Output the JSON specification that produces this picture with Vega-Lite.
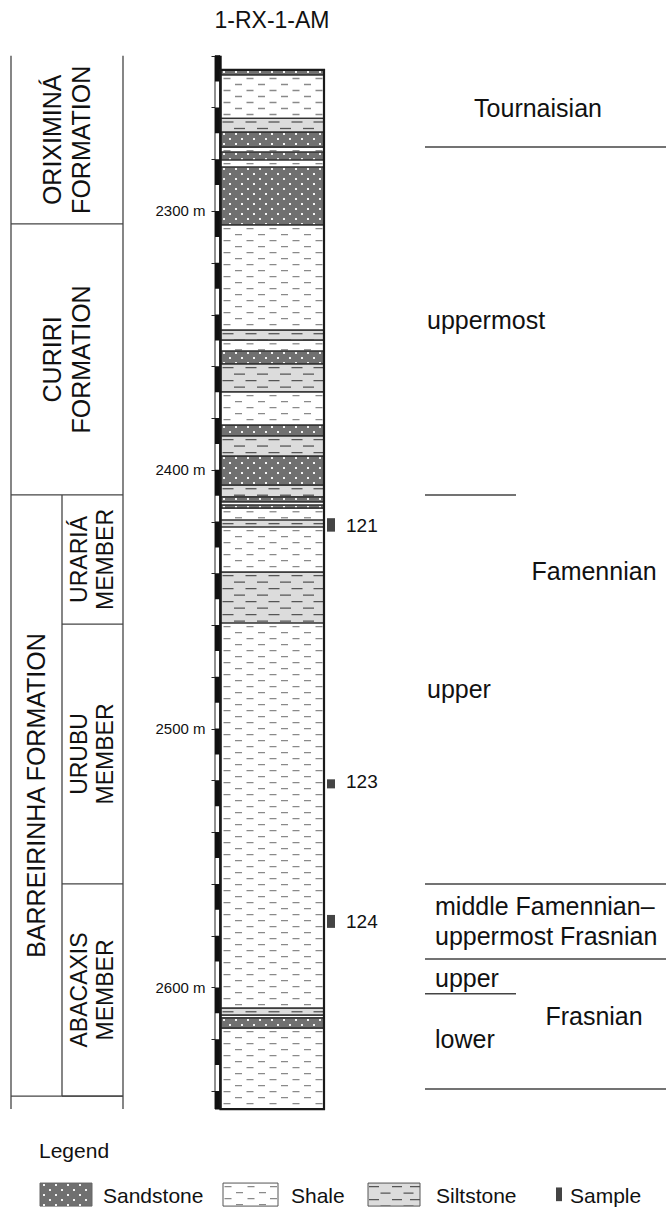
{
"$schema": "https://vega.github.io/schema/vega-lite/v6.json",
"width": 666, "height": 1208, "autosize": "none", "padding": 0, "background": "#ffffff",
"config": {"view": {"stroke": null}, "axisX": {"disable": true}, "text": {"font": "Liberation Sans", "color": "#111111"}},
"datasets": {
"well": [{"well": "1-RX-1-AM", "logTop": 2240, "logBase": 2647}],
"litho": [
{"rock": "Sandstone", "top": 2245.5, "base": 2247.4},
{"rock": "Shale", "top": 2247.4, "base": 2264.2},
{"rock": "Siltstone", "top": 2264.2, "base": 2269.5},
{"rock": "Sandstone", "top": 2269.5, "base": 2275.3},
{"rock": "Shale", "top": 2275.3, "base": 2277.2},
{"rock": "Sandstone", "top": 2277.2, "base": 2280.3},
{"rock": "Shale", "top": 2280.3, "base": 2283.0},
{"rock": "Sandstone", "top": 2283.0, "base": 2305.4},
{"rock": "Shale", "top": 2305.4, "base": 2346.0},
{"rock": "Siltstone", "top": 2346.0, "base": 2349.9},
{"rock": "Shale", "top": 2349.9, "base": 2354.1},
{"rock": "Sandstone", "top": 2354.1, "base": 2359.1},
{"rock": "Siltstone", "top": 2359.1, "base": 2369.9},
{"rock": "Shale", "top": 2369.9, "base": 2382.7},
{"rock": "Sandstone", "top": 2382.7, "base": 2386.9},
{"rock": "Siltstone", "top": 2386.9, "base": 2394.7},
{"rock": "Sandstone", "top": 2394.7, "base": 2405.9},
{"rock": "Siltstone", "top": 2405.9, "base": 2410.5},
{"rock": "Sandstone", "top": 2410.5, "base": 2412.4},
{"rock": "Shale", "top": 2412.4, "base": 2413.6},
{"rock": "Sandstone", "top": 2413.6, "base": 2414.8},
{"rock": "Shale", "top": 2414.8, "base": 2419.4},
{"rock": "Siltstone", "top": 2419.4, "base": 2422.1},
{"rock": "Shale", "top": 2422.1, "base": 2439.5},
{"rock": "Siltstone", "top": 2439.5, "base": 2459.2},
{"rock": "Shale", "top": 2459.2, "base": 2608.0},
{"rock": "Siltstone", "top": 2608.0, "base": 2610.7},
{"rock": "Shale", "top": 2610.7, "base": 2611.8},
{"rock": "Sandstone", "top": 2611.8, "base": 2615.7},
{"rock": "Shale", "top": 2615.7, "base": 2647.0}
],
"units": [
{"unit": "ORIXIMINÁ\nFORMATION", "rank": "Formation", "top": 2240.0, "base": 2305.0},
{"unit": "CURIRI\nFORMATION", "rank": "Formation", "top": 2305.0, "base": 2409.7},
{"unit": "BARREIRINHA FORMATION", "rank": "Formation", "top": 2409.7, "base": 2642.0},
{"unit": "URARIÁ\nMEMBER", "rank": "Member", "top": 2409.7, "base": 2459.6},
{"unit": "URUBU\nMEMBER", "rank": "Member", "top": 2459.6, "base": 2560.0},
{"unit": "ABACAXIS\nMEMBER", "rank": "Member", "top": 2560.0, "base": 2642.0}
],
"stageLines": [
{"depth": 2275.3, "rank": "stage"},
{"depth": 2409.7, "rank": "substage"},
{"depth": 2560.0, "rank": "stage"},
{"depth": 2589.0, "rank": "stage"},
{"depth": 2602.5, "rank": "substage"},
{"depth": 2639.3, "rank": "stage"}
],
"stageLabels": [
{"label": "Tournaisian", "depth": 2263.7, "rank": "stage", "stage": "Tournaisian"},
{"label": "Famennian", "depth": 2442.6, "rank": "stage", "stage": "Famennian"},
{"label": "Frasnian", "depth": 2614.5, "rank": "stage", "stage": "Frasnian"},
{"label": "uppermost", "depth": 2345.6, "rank": "substage", "stage": "Famennian"},
{"label": "upper", "depth": 2488.2, "rank": "substage", "stage": "Famennian"},
{"label": "middle Famennian–\nuppermost Frasnian", "depth": 2572.0, "rank": "interval", "stage": "Famennian–Frasnian"},
{"label": "upper", "depth": 2599.9, "rank": "substage", "stage": "Frasnian"},
{"label": "lower", "depth": 2623.4, "rank": "substage", "stage": "Frasnian"}
],
"samples": [
{"sample": "121", "top": 2418.7, "base": 2423.9},
{"sample": "123", "top": 2519.6, "base": 2523.1},
{"sample": "124", "top": 2572.0, "base": 2577.0}
],
"legend": [{"item": "Sandstone"}, {"item": "Shale"}, {"item": "Siltstone"}, {"item": "Sample"}]
},
"layer": [
{"data": {"name": "well"},
 "mark": {"type": "rect", "fill": "#ffffff", "stroke": "#222222", "strokeWidth": 1},
 "encoding": {
  "x": {"datum": 215, "type": "quantitative", "scale": {"domain": [0, 666], "nice": false, "zero": false}},
  "x2": {"datum": 220},
  "y": {"field": "logTop", "type": "quantitative", "scale": {"domain": [2218.47, 2685.24], "reverse": true, "nice": false, "zero": false},
   "axis": {"orient": "left", "offset": -215, "values": [2240,2250,2260,2270,2280,2290,2300,2310,2320,2330,2340,2350,2360,2370,2380,2390,2400,2410,2420,2430,2440,2450,2460,2470,2480,2490,2500,2510,2520,2530,2540,2550,2560,2570,2580,2590,2600,2610,2620,2630,2640],
    "tickSize": 4, "tickColor": "#222222", "tickWidth": 1, "domain": false, "grid": false, "title": null,
    "labelExpr": "datum.value % 100 === 0 ? datum.value + ' m' : ''", "labelFont": "Liberation Sans", "labelFontSize": 15, "labelColor": "#111111", "labelPadding": 6, "labelOverlap": false, "labelBound": false, "labelFlush": false}},
  "y2": {"field": "logBase"}}},
{"data": {"name": "well"},
 "mark": {"type": "rule", "color": "#111111", "strokeWidth": 5, "strokeDash": [25.88, 25.88]},
 "encoding": {"x": {"datum": 217.5}, "y": {"field": "logTop", "type": "quantitative"}, "y2": {"field": "logBase"}}},
{"data": {"name": "well"},
 "mark": {"type": "rule", "color": "#111111", "strokeWidth": 2.4},
 "encoding": {"x": {"datum": 220.5}, "y": {"field": "logTop", "type": "quantitative"}, "y2": {"field": "logBase"}}},
{"data": {"name": "litho"},
 "mark": {"type": "rect", "strokeWidth": 0},
 "encoding": {"x": {"datum": 221}, "x2": {"datum": 324}, "y": {"field": "top", "type": "quantitative"}, "y2": {"field": "base"},
  "fill": {"field": "rock", "type": "nominal", "scale": {"domain": ["Sandstone", "Shale", "Siltstone"], "range": ["#707070", "#ffffff", "#dcdcdc"]}, "legend": null}}},
{"data": {"name": "litho"}, "transform": [{"filter": "datum.rock === 'Sandstone'"}],
 "encoding": {"y": {"field": "top", "type": "quantitative"}, "y2": {"field": "base"}},
 "layer": [
  {"mark": {"type": "rule", "color": "#f4f4f4", "strokeWidth": 2, "strokeDash": [2, 8], "strokeDashOffset": -1}, "encoding": {"x": {"datum": 224}}},
  {"mark": {"type": "rule", "color": "#f4f4f4", "strokeWidth": 2, "strokeDash": [2, 8], "strokeDashOffset": -6}, "encoding": {"x": {"datum": 230}}},
  {"mark": {"type": "rule", "color": "#f4f4f4", "strokeWidth": 2, "strokeDash": [2, 8], "strokeDashOffset": -1}, "encoding": {"x": {"datum": 236}}},
  {"mark": {"type": "rule", "color": "#f4f4f4", "strokeWidth": 2, "strokeDash": [2, 8], "strokeDashOffset": -6}, "encoding": {"x": {"datum": 242}}},
  {"mark": {"type": "rule", "color": "#f4f4f4", "strokeWidth": 2, "strokeDash": [2, 8], "strokeDashOffset": -1}, "encoding": {"x": {"datum": 248}}},
  {"mark": {"type": "rule", "color": "#f4f4f4", "strokeWidth": 2, "strokeDash": [2, 8], "strokeDashOffset": -6}, "encoding": {"x": {"datum": 254}}},
  {"mark": {"type": "rule", "color": "#f4f4f4", "strokeWidth": 2, "strokeDash": [2, 8], "strokeDashOffset": -1}, "encoding": {"x": {"datum": 260}}},
  {"mark": {"type": "rule", "color": "#f4f4f4", "strokeWidth": 2, "strokeDash": [2, 8], "strokeDashOffset": -6}, "encoding": {"x": {"datum": 266}}},
  {"mark": {"type": "rule", "color": "#f4f4f4", "strokeWidth": 2, "strokeDash": [2, 8], "strokeDashOffset": -1}, "encoding": {"x": {"datum": 272}}},
  {"mark": {"type": "rule", "color": "#f4f4f4", "strokeWidth": 2, "strokeDash": [2, 8], "strokeDashOffset": -6}, "encoding": {"x": {"datum": 278}}},
  {"mark": {"type": "rule", "color": "#f4f4f4", "strokeWidth": 2, "strokeDash": [2, 8], "strokeDashOffset": -1}, "encoding": {"x": {"datum": 284}}},
  {"mark": {"type": "rule", "color": "#f4f4f4", "strokeWidth": 2, "strokeDash": [2, 8], "strokeDashOffset": -6}, "encoding": {"x": {"datum": 290}}},
  {"mark": {"type": "rule", "color": "#f4f4f4", "strokeWidth": 2, "strokeDash": [2, 8], "strokeDashOffset": -1}, "encoding": {"x": {"datum": 296}}},
  {"mark": {"type": "rule", "color": "#f4f4f4", "strokeWidth": 2, "strokeDash": [2, 8], "strokeDashOffset": -6}, "encoding": {"x": {"datum": 302}}},
  {"mark": {"type": "rule", "color": "#f4f4f4", "strokeWidth": 2, "strokeDash": [2, 8], "strokeDashOffset": -1}, "encoding": {"x": {"datum": 308}}},
  {"mark": {"type": "rule", "color": "#f4f4f4", "strokeWidth": 2, "strokeDash": [2, 8], "strokeDashOffset": -6}, "encoding": {"x": {"datum": 314}}},
  {"mark": {"type": "rule", "color": "#f4f4f4", "strokeWidth": 2, "strokeDash": [2, 8], "strokeDashOffset": -1}, "encoding": {"x": {"datum": 320}}}
 ]},
{"data": {"name": "litho"}, "transform": [{"filter": "datum.rock === 'Shale'"}],
 "encoding": {"y": {"field": "top", "type": "quantitative"}, "y2": {"field": "base"}},
 "layer": [
  {"mark": {"type": "rule", "color": "#8a8a8a", "strokeWidth": 7, "strokeDash": [1.3, 10.7], "strokeDashOffset": -3}, "encoding": {"x": {"datum": 227}}},
  {"mark": {"type": "rule", "color": "#8a8a8a", "strokeWidth": 7, "strokeDash": [1.3, 10.7], "strokeDashOffset": -9}, "encoding": {"x": {"datum": 238.5}}},
  {"mark": {"type": "rule", "color": "#8a8a8a", "strokeWidth": 7, "strokeDash": [1.3, 10.7], "strokeDashOffset": -3}, "encoding": {"x": {"datum": 250}}},
  {"mark": {"type": "rule", "color": "#8a8a8a", "strokeWidth": 7, "strokeDash": [1.3, 10.7], "strokeDashOffset": -9}, "encoding": {"x": {"datum": 261.5}}},
  {"mark": {"type": "rule", "color": "#8a8a8a", "strokeWidth": 7, "strokeDash": [1.3, 10.7], "strokeDashOffset": -3}, "encoding": {"x": {"datum": 273}}},
  {"mark": {"type": "rule", "color": "#8a8a8a", "strokeWidth": 7, "strokeDash": [1.3, 10.7], "strokeDashOffset": -9}, "encoding": {"x": {"datum": 284.5}}},
  {"mark": {"type": "rule", "color": "#8a8a8a", "strokeWidth": 7, "strokeDash": [1.3, 10.7], "strokeDashOffset": -3}, "encoding": {"x": {"datum": 296}}},
  {"mark": {"type": "rule", "color": "#8a8a8a", "strokeWidth": 7, "strokeDash": [1.3, 10.7], "strokeDashOffset": -9}, "encoding": {"x": {"datum": 307.5}}},
  {"mark": {"type": "rule", "color": "#8a8a8a", "strokeWidth": 7, "strokeDash": [1.3, 10.7], "strokeDashOffset": -3}, "encoding": {"x": {"datum": 319}}}
 ]},
{"data": {"name": "litho"}, "transform": [{"filter": "datum.rock === 'Siltstone'"}],
 "encoding": {"y": {"field": "top", "type": "quantitative"}, "y2": {"field": "base"}},
 "layer": [
  {"mark": {"type": "rule", "color": "#555555", "strokeWidth": 11, "strokeDash": [1.3, 11.7], "strokeDashOffset": -3}, "encoding": {"x": {"datum": 228}}},
  {"mark": {"type": "rule", "color": "#555555", "strokeWidth": 11, "strokeDash": [1.3, 11.7], "strokeDashOffset": -9.5}, "encoding": {"x": {"datum": 239.5}}},
  {"mark": {"type": "rule", "color": "#555555", "strokeWidth": 11, "strokeDash": [1.3, 11.7], "strokeDashOffset": -3}, "encoding": {"x": {"datum": 251}}},
  {"mark": {"type": "rule", "color": "#555555", "strokeWidth": 11, "strokeDash": [1.3, 11.7], "strokeDashOffset": -9.5}, "encoding": {"x": {"datum": 262.5}}},
  {"mark": {"type": "rule", "color": "#555555", "strokeWidth": 11, "strokeDash": [1.3, 11.7], "strokeDashOffset": -3}, "encoding": {"x": {"datum": 274}}},
  {"mark": {"type": "rule", "color": "#555555", "strokeWidth": 11, "strokeDash": [1.3, 11.7], "strokeDashOffset": -9.5}, "encoding": {"x": {"datum": 285.5}}},
  {"mark": {"type": "rule", "color": "#555555", "strokeWidth": 11, "strokeDash": [1.3, 11.7], "strokeDashOffset": -3}, "encoding": {"x": {"datum": 297}}},
  {"mark": {"type": "rule", "color": "#555555", "strokeWidth": 11, "strokeDash": [1.3, 11.7], "strokeDashOffset": -9.5}, "encoding": {"x": {"datum": 308.5}}},
  {"mark": {"type": "rule", "color": "#555555", "strokeWidth": 11, "strokeDash": [1.3, 11.7], "strokeDashOffset": -3}, "encoding": {"x": {"datum": 319}}}
 ]},
{"data": {"name": "litho"},
 "mark": {"type": "rect", "filled": false, "stroke": "#333333", "strokeWidth": 1.2},
 "encoding": {"x": {"datum": 221}, "x2": {"datum": 324}, "y": {"field": "top", "type": "quantitative"}, "y2": {"field": "base"}}},
{"data": {"name": "litho"},
 "mark": {"type": "rect", "filled": false, "stroke": "#1a1a1a", "strokeWidth": 2.2},
 "encoding": {"x": {"datum": 220.5}, "x2": {"datum": 324}, "y": {"aggregate": "min", "field": "top", "type": "quantitative"}, "y2": {"aggregate": "max", "field": "base"}}},
{"data": {"name": "well"},
 "mark": {"type": "rule", "color": "#444444", "strokeWidth": 1.3},
 "encoding": {"x": {"datum": 11}, "y": {"field": "logTop", "type": "quantitative"}, "y2": {"field": "logBase"}}},
{"data": {"name": "well"},
 "mark": {"type": "rule", "color": "#444444", "strokeWidth": 1.3},
 "encoding": {"x": {"datum": 123}, "y": {"field": "logTop", "type": "quantitative"}, "y2": {"field": "logBase"}}},
{"data": {"name": "units"}, "transform": [{"filter": "datum.rank === 'Formation'"}],
 "mark": {"type": "rule", "color": "#444444", "strokeWidth": 1.3},
 "encoding": {"x": {"datum": 11}, "x2": {"datum": 123}, "y": {"field": "base", "type": "quantitative"}}},
{"data": {"name": "units"}, "transform": [{"filter": "datum.rank === 'Member'"}],
 "mark": {"type": "rule", "color": "#444444", "strokeWidth": 1.3},
 "encoding": {"x": {"datum": 62}, "x2": {"datum": 123}, "y": {"field": "base", "type": "quantitative"}}},
{"data": {"name": "units"}, "transform": [{"filter": "datum.rank === 'Member'"}],
 "mark": {"type": "rule", "color": "#444444", "strokeWidth": 1.3},
 "encoding": {"x": {"datum": 62}, "y": {"field": "top", "type": "quantitative"}, "y2": {"field": "base"}}},
{"data": {"name": "units"}, "transform": [{"filter": "datum.rank === 'Formation' && datum.unit !== 'BARREIRINHA FORMATION'"}, {"fold": ["top", "base"], "as": ["edge", "depth"]}],
 "mark": {"type": "text", "angle": 270, "align": "center", "baseline": "middle", "fontSize": 25, "lineBreak": "\n", "lineHeight": 29},
 "encoding": {"x": {"datum": 52.5}, "y": {"aggregate": "mean", "field": "depth", "type": "quantitative"}, "text": {"field": "unit", "type": "nominal"}}},
{"data": {"name": "units"}, "transform": [{"filter": "datum.unit === 'BARREIRINHA FORMATION'"}, {"fold": ["top", "base"], "as": ["edge", "depth"]}],
 "mark": {"type": "text", "angle": 270, "align": "center", "baseline": "middle", "fontSize": 25},
 "encoding": {"x": {"datum": 36.5}, "y": {"aggregate": "mean", "field": "depth", "type": "quantitative"}, "text": {"field": "unit", "type": "nominal"}}},
{"data": {"name": "units"}, "transform": [{"filter": "datum.rank === 'Member'"}, {"fold": ["top", "base"], "as": ["edge", "depth"]}],
 "mark": {"type": "text", "angle": 270, "align": "center", "baseline": "middle", "fontSize": 23, "lineBreak": "\n", "lineHeight": 26},
 "encoding": {"x": {"datum": 80}, "y": {"aggregate": "mean", "field": "depth", "type": "quantitative"}, "text": {"field": "unit", "type": "nominal"}}},
{"data": {"name": "stageLines"}, "transform": [{"filter": "datum.rank === 'stage'"}],
 "mark": {"type": "rule", "color": "#444444", "strokeWidth": 1.5},
 "encoding": {"x": {"datum": 425}, "x2": {"datum": 666}, "y": {"field": "depth", "type": "quantitative"}}},
{"data": {"name": "stageLines"}, "transform": [{"filter": "datum.rank === 'substage'"}],
 "mark": {"type": "rule", "color": "#444444", "strokeWidth": 1.5},
 "encoding": {"x": {"datum": 425}, "x2": {"datum": 516}, "y": {"field": "depth", "type": "quantitative"}}},
{"data": {"name": "stageLabels"}, "transform": [{"filter": "datum.stage === 'Tournaisian'"}],
 "mark": {"type": "text", "align": "center", "baseline": "alphabetic", "fontSize": 25},
 "encoding": {"x": {"datum": 538}, "y": {"field": "depth", "type": "quantitative"}, "text": {"field": "label", "type": "nominal"}}},
{"data": {"name": "stageLabels"}, "transform": [{"filter": "datum.rank === 'stage' && datum.stage !== 'Tournaisian'"}],
 "mark": {"type": "text", "align": "center", "baseline": "alphabetic", "fontSize": 25},
 "encoding": {"x": {"datum": 594}, "y": {"field": "depth", "type": "quantitative"}, "text": {"field": "label", "type": "nominal"}}},
{"data": {"name": "stageLabels"}, "transform": [{"filter": "datum.rank === 'substage' && datum.stage === 'Famennian'"}],
 "mark": {"type": "text", "align": "left", "baseline": "alphabetic", "fontSize": 25},
 "encoding": {"x": {"datum": 427}, "y": {"field": "depth", "type": "quantitative"}, "text": {"field": "label", "type": "nominal"}}},
{"data": {"name": "stageLabels"}, "transform": [{"filter": "datum.rank !== 'stage' && datum.stage !== 'Famennian'"}],
 "mark": {"type": "text", "align": "left", "baseline": "alphabetic", "fontSize": 25, "lineBreak": "\n", "lineHeight": 30},
 "encoding": {"x": {"datum": 435}, "y": {"field": "depth", "type": "quantitative"}, "text": {"field": "label", "type": "nominal"}}},
{"data": {"name": "samples"},
 "mark": {"type": "rect", "fill": "#444444"},
 "encoding": {"x": {"datum": 327}, "x2": {"datum": 335}, "y": {"field": "top", "type": "quantitative"}, "y2": {"field": "base"}}},
{"data": {"name": "samples"},
 "mark": {"type": "text", "align": "left", "baseline": "alphabetic", "fontSize": 19},
 "encoding": {"x": {"datum": 346}, "y": {"field": "base", "type": "quantitative"}, "text": {"field": "sample", "type": "nominal"}}},
{"data": {"name": "well"},
 "mark": {"type": "text", "align": "center", "baseline": "alphabetic", "fontSize": 23},
 "encoding": {"x": {"datum": 272}, "y": {"datum": 2229.3}, "text": {"field": "well", "type": "nominal"}}},
{"data": {"name": "well"},
 "mark": {"type": "text", "align": "left", "baseline": "alphabetic", "fontSize": 21},
 "encoding": {"x": {"datum": 39}, "y": {"datum": 2666.0}, "text": {"value": "Legend"}}},
{"data": {"name": "legend"}, "transform": [{"filter": "datum.item === 'Sandstone'"}],
 "encoding": {"y": {"datum": 2675.6}, "y2": {"datum": 2684.5}},
 "layer": [
  {"mark": {"type": "rect", "fill": "#707070", "stroke": "#666666", "strokeWidth": 1}, "encoding": {"x": {"datum": 40}, "x2": {"datum": 92}}},
  {"mark": {"type": "rule", "color": "#f4f4f4", "strokeWidth": 2, "strokeDash": [2, 8], "strokeDashOffset": -1}, "encoding": {"x": {"datum": 44}}},
  {"mark": {"type": "rule", "color": "#f4f4f4", "strokeWidth": 2, "strokeDash": [2, 8], "strokeDashOffset": -6}, "encoding": {"x": {"datum": 50}}},
  {"mark": {"type": "rule", "color": "#f4f4f4", "strokeWidth": 2, "strokeDash": [2, 8], "strokeDashOffset": -1}, "encoding": {"x": {"datum": 56}}},
  {"mark": {"type": "rule", "color": "#f4f4f4", "strokeWidth": 2, "strokeDash": [2, 8], "strokeDashOffset": -6}, "encoding": {"x": {"datum": 62}}},
  {"mark": {"type": "rule", "color": "#f4f4f4", "strokeWidth": 2, "strokeDash": [2, 8], "strokeDashOffset": -1}, "encoding": {"x": {"datum": 68}}},
  {"mark": {"type": "rule", "color": "#f4f4f4", "strokeWidth": 2, "strokeDash": [2, 8], "strokeDashOffset": -6}, "encoding": {"x": {"datum": 74}}},
  {"mark": {"type": "rule", "color": "#f4f4f4", "strokeWidth": 2, "strokeDash": [2, 8], "strokeDashOffset": -1}, "encoding": {"x": {"datum": 80}}},
  {"mark": {"type": "rule", "color": "#f4f4f4", "strokeWidth": 2, "strokeDash": [2, 8], "strokeDashOffset": -6}, "encoding": {"x": {"datum": 86}}}
 ]},
{"data": {"name": "legend"}, "transform": [{"filter": "datum.item === 'Shale'"}],
 "encoding": {"y": {"datum": 2675.6}, "y2": {"datum": 2684.5}},
 "layer": [
  {"mark": {"type": "rect", "fill": "#ffffff", "stroke": "#555555", "strokeWidth": 1}, "encoding": {"x": {"datum": 223}, "x2": {"datum": 278}}},
  {"mark": {"type": "rule", "color": "#8a8a8a", "strokeWidth": 7, "strokeDash": [1.3, 10.7], "strokeDashOffset": -3}, "encoding": {"x": {"datum": 228}}},
  {"mark": {"type": "rule", "color": "#8a8a8a", "strokeWidth": 7, "strokeDash": [1.3, 10.7], "strokeDashOffset": -9}, "encoding": {"x": {"datum": 239.5}}},
  {"mark": {"type": "rule", "color": "#8a8a8a", "strokeWidth": 7, "strokeDash": [1.3, 10.7], "strokeDashOffset": -3}, "encoding": {"x": {"datum": 251}}},
  {"mark": {"type": "rule", "color": "#8a8a8a", "strokeWidth": 7, "strokeDash": [1.3, 10.7], "strokeDashOffset": -9}, "encoding": {"x": {"datum": 262.5}}},
  {"mark": {"type": "rule", "color": "#8a8a8a", "strokeWidth": 7, "strokeDash": [1.3, 10.7], "strokeDashOffset": -3}, "encoding": {"x": {"datum": 273.5}}}
 ]},
{"data": {"name": "legend"}, "transform": [{"filter": "datum.item === 'Siltstone'"}],
 "encoding": {"y": {"datum": 2675.6}, "y2": {"datum": 2684.5}},
 "layer": [
  {"mark": {"type": "rect", "fill": "#dcdcdc", "stroke": "#555555", "strokeWidth": 1}, "encoding": {"x": {"datum": 368}, "x2": {"datum": 420}}},
  {"mark": {"type": "rule", "color": "#555555", "strokeWidth": 10, "strokeDash": [1.3, 11.7], "strokeDashOffset": -3}, "encoding": {"x": {"datum": 374}}},
  {"mark": {"type": "rule", "color": "#555555", "strokeWidth": 10, "strokeDash": [1.3, 11.7], "strokeDashOffset": -9.5}, "encoding": {"x": {"datum": 385.5}}},
  {"mark": {"type": "rule", "color": "#555555", "strokeWidth": 10, "strokeDash": [1.3, 11.7], "strokeDashOffset": -3}, "encoding": {"x": {"datum": 397}}},
  {"mark": {"type": "rule", "color": "#555555", "strokeWidth": 10, "strokeDash": [1.3, 11.7], "strokeDashOffset": -9.5}, "encoding": {"x": {"datum": 408.5}}},
  {"mark": {"type": "rule", "color": "#555555", "strokeWidth": 10, "strokeDash": [1.3, 11.7], "strokeDashOffset": -3}, "encoding": {"x": {"datum": 415}}}
 ]},
{"data": {"name": "legend"}, "transform": [{"filter": "datum.item === 'Sample'"}],
 "mark": {"type": "rect", "fill": "#444444"},
 "encoding": {"x": {"datum": 556}, "x2": {"datum": 562}, "y": {"datum": 2677.3}, "y2": {"datum": 2682.6}}},
{"data": {"name": "legend"}, "transform": [{"filter": "datum.item === 'Sandstone'"}],
 "mark": {"type": "text", "align": "left", "baseline": "alphabetic", "fontSize": 21},
 "encoding": {"x": {"datum": 103}, "y": {"datum": 2683.3}, "text": {"field": "item", "type": "nominal"}}},
{"data": {"name": "legend"}, "transform": [{"filter": "datum.item === 'Shale'"}],
 "mark": {"type": "text", "align": "left", "baseline": "alphabetic", "fontSize": 21},
 "encoding": {"x": {"datum": 291}, "y": {"datum": 2683.3}, "text": {"field": "item", "type": "nominal"}}},
{"data": {"name": "legend"}, "transform": [{"filter": "datum.item === 'Siltstone'"}],
 "mark": {"type": "text", "align": "left", "baseline": "alphabetic", "fontSize": 21},
 "encoding": {"x": {"datum": 436}, "y": {"datum": 2683.3}, "text": {"field": "item", "type": "nominal"}}},
{"data": {"name": "legend"}, "transform": [{"filter": "datum.item === 'Sample'"}],
 "mark": {"type": "text", "align": "left", "baseline": "alphabetic", "fontSize": 21},
 "encoding": {"x": {"datum": 570}, "y": {"datum": 2683.3}, "text": {"field": "item", "type": "nominal"}}}
]
}
